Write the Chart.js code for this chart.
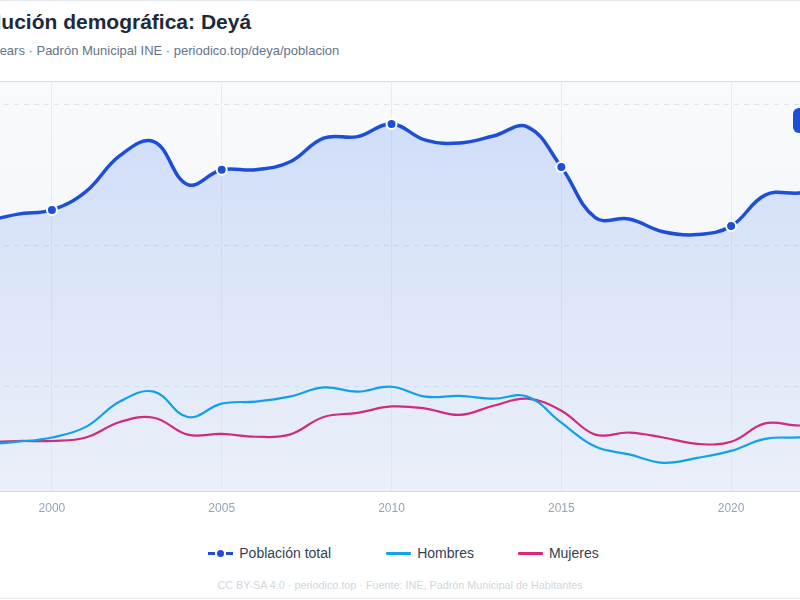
<!DOCTYPE html>
<html>
<head>
<meta charset="utf-8">
<script src="https://cdn.jsdelivr.net/npm/chart.js@4.4.1/dist/chart.umd.min.js"></script>
<style>
  body { margin: 0; background: #fff; overflow: hidden; font-family: "Liberation Sans", Arial, sans-serif; }
  .card {
    position: absolute; left: -68px; top: 0; width: 936px; height: 599px;
    box-sizing: border-box; border: 1px solid #e5e9f0; background: #fff;
    padding: 8px 24px 0 24px;
  }
  .title { font-size: 21px; line-height: 26px; font-weight: bold; color: #1e293b; margin: 0; }
  .subtitle { font-size: 13px; line-height: 18px; color: #64748b; margin-top: 7px; }
  .chart-wrap { position: relative; width: 886px; height: 460px; margin-top: 10px; }
  .legend { display: flex; justify-content: center; margin-top: 13px; padding-left: 7px; height: 20px; align-items: center; font-size: 14px; color: #334155; }
  .legend .item { display: flex; align-items: center; }
  .legend .item:nth-child(1) { margin-right: 55px; }
  .legend .item:nth-child(2) { margin-right: 44px; }
  .legend .icon { display: flex; align-items: center; width: 25px; margin-right: 6px; }
  .legend .line { width: 25px; height: 3px; border-radius: 1px; }
  .legend .dash { width: 7px; height: 3px; }
  .legend .dot { width: 7px; height: 7px; border-radius: 50%; margin: 0 2px; }
  .footer { text-align: center; font-size: 10.8px; line-height: 14px; color: #cfd6e0; margin-top: 15px; }
</style>
</head>
<body>
<div class="card">
  <div class="title">Evolución demográfica: Deyá</div>
  <div class="subtitle">All 26 years · Padrón Municipal INE · periodico.top/deya/poblacion</div>
  <div class="chart-wrap"><canvas id="chart"></canvas></div>
  <div class="legend" id="legend"></div>
  <div class="footer">CC BY-SA 4.0 · periodico.top · Fuente: INE, Padrón Municipal de Habitantes</div>
</div>
<script>
// Data
const years = [1998, 1999, 2000, 2001, 2002, 2003, 2004, 2005, 2006, 2007, 2008, 2009, 2010,
               2011, 2012, 2013, 2014, 2015, 2016, 2017, 2018, 2019, 2020, 2021, 2022, 2023];
const total = [634, 645, 651, 677, 728, 748, 687, 708, 708, 719, 753, 755, 773,
               750, 746, 756, 769, 712, 640, 638, 620, 616, 628, 672, 675, 680];
const hombres = [318, 322, 328, 343, 379, 393, 357, 376, 379, 386, 399, 393, 400,
                 386, 387, 383, 386, 349, 315, 304, 292, 299, 309, 326, 328, 331];
const mujeres = [321, 323, 323, 328, 350, 356, 332, 333, 329, 332, 357, 363, 372,
                 369, 360, 373, 383, 366, 332, 335, 328, 319, 322, 348, 345, 349];
const yTicks = [400, 600, 800];
const seriesNames = ['Población total', 'Hombres', 'Mujeres'];

const BLUE = '#1d4ed8';
const SKY = '#0ea5e9';
const PINK = '#db2777';

// Plot background + border
const plotBg = {
    id: 'plotBg',
    beforeDraw(chart) {
        const { ctx, chartArea: a } = chart;
        const g = ctx.createLinearGradient(0, a.top, 0, a.bottom);
        g.addColorStop(0, '#f8fafc');
        g.addColorStop(1, '#f1f4f9');
        ctx.save();
        ctx.fillStyle = g;
        ctx.fillRect(a.left, a.top, a.right - a.left, a.bottom - a.top);
        ctx.strokeStyle = '#d6dde8';
        ctx.lineWidth = 1;
        ctx.strokeRect(a.left + 0.5, a.top + 0.5, a.right - a.left - 1, a.bottom - a.top);
        ctx.restore();
    }
};

// Latest-value badge in the top right corner
const badge = {
    id: 'badge',
    afterDraw(chart) {
        const { ctx, chartArea: a } = chart;
        const x = a.right - 40, y = a.top + 27, w = 44, h = 25;
        ctx.save();
        ctx.fillStyle = BLUE;
        ctx.beginPath();
        ctx.roundRect(x, y, w, h, 6);
        ctx.fill();
        ctx.fillStyle = '#fff';
        ctx.font = 'bold 12px "Liberation Sans", Arial, sans-serif';
        ctx.textAlign = 'center';
        ctx.textBaseline = 'middle';
        ctx.fillText(String(total[total.length - 1]), x + w / 2, y + h / 2 + 1);
        ctx.restore();
    }
};

Chart.defaults.font.family = '"Liberation Sans", Arial, sans-serif';

const ctx = document.getElementById('chart').getContext('2d');
new Chart(ctx, {
    type: 'line',
    data: {
        labels: years,
        datasets: [
            {
                label: seriesNames[0],
                data: total,
                borderColor: BLUE,
                borderWidth: 3.5,
                tension: 0.4,
                fill: 'start',
                backgroundColor: (c) => {
                    const a = c.chart.chartArea;
                    if (!a) return 'rgba(37,99,235,0.15)';
                    const g = c.chart.ctx.createLinearGradient(0, a.top, 0, a.bottom);
                    g.addColorStop(0, 'rgba(37,99,235,0.20)');
                    g.addColorStop(1, 'rgba(37,99,235,0.03)');
                    return g;
                },
                pointRadius: (c) => years[c.dataIndex] % 5 === 0 ? 5 : 0,
                pointBackgroundColor: BLUE,
                pointBorderColor: '#fff',
                pointBorderWidth: 2,
                order: 1
            },
            {
                label: seriesNames[1],
                data: hombres,
                borderColor: SKY,
                borderWidth: 2.2,
                tension: 0.4,
                fill: false,
                pointRadius: 0,
                order: 2
            },
            {
                label: seriesNames[2],
                data: mujeres,
                borderColor: PINK,
                borderWidth: 2.2,
                tension: 0.4,
                fill: false,
                pointRadius: 0,
                order: 3
            }
        ]
    },
    options: {
        responsive: true,
        maintainAspectRatio: false,
        animation: false,
        layout: { padding: { top: 11, right: 8, bottom: 9, left: 0 } },
        plugins: {
            legend: { display: false },
            tooltip: { enabled: false }
        },
        scales: {
            x: {
                grid: {
                    drawTicks: false,
                    color: (c) => (c.tick && years[c.index] % 5 === 0) ? '#e6ebf2' : 'transparent'
                },
                border: { color: '#d3d9e2' },
                ticks: {
                    autoSkip: false,
                    maxRotation: 0,
                    padding: 10,
                    color: '#94a3b8',
                    font: { size: 12 },
                    callback: (v, i) => years[i] % 5 === 0 ? String(years[i]) : ''
                },
                afterFit: (s) => { s.height = 30; }
            },
            y: {
                min: 252,
                max: 834,
                afterBuildTicks: (s) => { s.ticks = yTicks.map(v => ({ value: v })); },
                grid: { color: '#dfe5ee', drawTicks: false },
                border: { display: false, dash: [5, 5] },
                ticks: { padding: 3, color: '#94a3b8', font: { size: 12 } },
                afterFit: (s) => { s.width = 27; }
            }
        }
    },
    plugins: [plotBg, badge]
});

// HTML legend
const legend = document.getElementById('legend');
const icons = [
    `<span class="icon"><span class="dash" style="background:${BLUE}"></span><span class="dot" style="background:${BLUE}"></span><span class="dash" style="background:${BLUE}"></span></span>`,
    `<span class="icon"><span class="line" style="background:${SKY}"></span></span>`,
    `<span class="icon"><span class="line" style="background:${PINK}"></span></span>`
];
seriesNames.forEach((name, i) => {
    const item = document.createElement('span');
    item.className = 'item';
    item.innerHTML = icons[i] + `<span>${name}</span>`;
    legend.appendChild(item);
});
</script>
</body>
</html>
